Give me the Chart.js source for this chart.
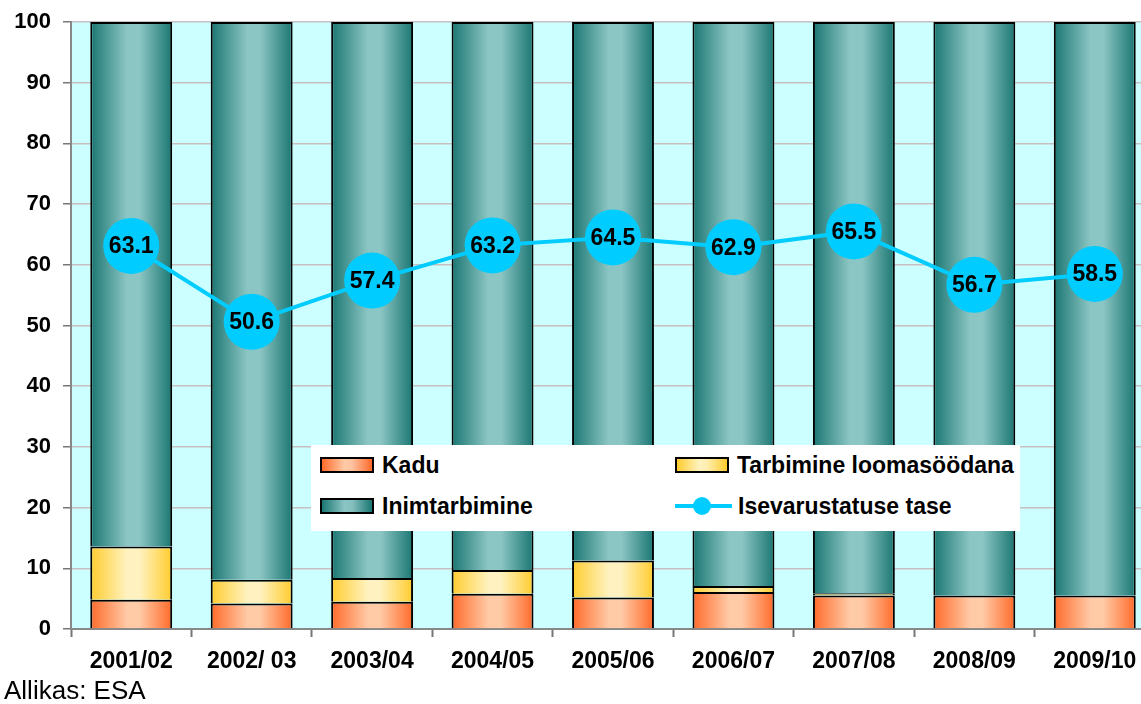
<!DOCTYPE html>
<html>
<head>
<meta charset="utf-8">
<script src="https://cdn.jsdelivr.net/npm/chart.js@4.4.1/dist/chart.umd.min.js"></script>
<style>
  html, body { margin: 0; padding: 0; overflow: hidden; background: #fff; }
  #wrap { position: relative; width: 1160px; height: 704px; }
  #chart { position: absolute; left: 0; top: 0; }
  #legend {
    position: absolute; left: 311px; top: 445px; width: 709px; height: 86px;
    background: #fff; font: bold 23px "Liberation Sans", Arial, sans-serif; color: #000;
  }
  .item { position: absolute; display: flex; align-items: center; height: 26px; }
  .sw { width: 50px; height: 12px; border: 2px solid #000; margin-right: 8px; }
  .ln { position: relative; width: 57px; height: 4px; background: #00ccff; margin-right: 6px; }
  .ln::after { content: ""; position: absolute; left: 18px; top: -7px; width: 18px; height: 18px; border-radius: 50%; background: #00ccff; }
  #source { position: absolute; left: 4px; top: 675px; font: 26px "Liberation Sans", Arial, sans-serif; color: #000; }
</style>
</head>
<body>
<div id="wrap">
  <canvas id="chart" width="1160" height="704"></canvas>
  <div id="legend">
    <div class="item" style="left:9px;top:7px"><div class="sw" style="background:linear-gradient(to right,#ff6a2a,#ffcaa6 45%,#ffc2a0 60%,#ff6a2a)"></div>Kadu</div>
    <div class="item" style="left:364px;top:7px"><div class="sw" style="background:linear-gradient(to right,#ffcc2e,#fff2c0 45%,#ffeeb0 60%,#ffcc2e)"></div>Tarbimine loomasöödana</div>
    <div class="item" style="left:9px;top:48px"><div class="sw" style="background:linear-gradient(to right,#1a7672,#8cc6c4 45%,#86c0be 60%,#1a7672)"></div>Inimtarbimine</div>
    <div class="item" style="left:364px;top:48px"><div class="ln"></div>Isevarustatuse tase</div>
  </div>
  <div id="source">Allikas: ESA</div>
</div>
<script>
const years = ["2001/02", "2002/ 03", "2003/04", "2004/05", "2005/06", "2006/07", "2007/08", "2008/09", "2009/10"];
const kadu = [4.8, 4.2, 4.5, 5.8, 5.2, 6.1, 5.5, 5.5, 5.5];
const loomasoot = [8.8, 3.9, 3.9, 3.9, 6.1, 1.0, 0.4, 0, 0];
const inimtarbimine = years.map((_, i) => +(100 - kadu[i] - loomasoot[i]).toFixed(1));
const isevarustatus = [63.1, 50.6, 57.4, 63.2, 64.5, 62.9, 65.5, 56.7, 58.5];

const FONT = '"Liberation Sans", Arial, sans-serif';
const BAR_PCT = 0.68;

// horizontal "cylinder" shading for each bar
function shade(dark, light) {
  return (c) => {
    const chart = c.chart;
    const area = chart.chartArea;
    if (!area || c.dataIndex === undefined) return dark;
    const x = chart.scales.x.getPixelForValue(c.dataIndex);
    const w = (area.right - area.left) / years.length * BAR_PCT;
    const g = chart.ctx.createLinearGradient(x - w / 2, 0, x + w / 2, 0);
    g.addColorStop(0, dark);
    g.addColorStop(0.45, light);
    g.addColorStop(0.6, light);
    g.addColorStop(1, dark);
    return g;
  };
}

const plotBg = {
  id: "plotBg",
  beforeDraw(chart) {
    const { ctx, chartArea: a } = chart;
    ctx.save();
    ctx.fillStyle = "#ccffff";
    ctx.fillRect(a.left, a.top, a.right - a.left, a.bottom - a.top);
    ctx.restore();
  },
};

const pointLabels = {
  id: "pointLabels",
  afterDatasetsDraw(chart) {
    const meta = chart.getDatasetMeta(3);
    const ctx = chart.ctx;
    ctx.save();
    ctx.font = "bold 23px " + FONT;
    ctx.fillStyle = "#000";
    ctx.textAlign = "center";
    ctx.textBaseline = "middle";
    meta.data.forEach((pt, i) => {
      ctx.fillText(isevarustatus[i].toFixed(1), pt.x, pt.y + 1);
    });
    ctx.restore();
  },
};

new Chart(document.getElementById("chart"), {
  type: "bar",
  data: {
    labels: years,
    datasets: [
      {
        label: "Kadu",
        data: kadu,
        backgroundColor: shade("#ff6a2a", "#ffcaa6"),
        borderColor: "#000",
        borderWidth: 2,
        stack: "s",
        order: 1,
      },
      {
        label: "Tarbimine loomasöödana",
        data: loomasoot,
        backgroundColor: shade("#ffcc2e", "#fff2c0"),
        borderColor: "#000",
        borderWidth: 2,
        stack: "s",
        order: 1,
      },
      {
        label: "Inimtarbimine",
        data: inimtarbimine,
        backgroundColor: shade("#1a7672", "#8cc6c4"),
        borderColor: "#000",
        borderWidth: 2,
        stack: "s",
        order: 1,
      },
      {
        type: "line",
        label: "Isevarustatuse tase",
        data: isevarustatus,
        borderColor: "#00ccff",
        backgroundColor: "#00ccff",
        borderWidth: 4,
        pointRadius: 28,
        pointHoverRadius: 28,
        pointBorderWidth: 0,
        stack: "line",
        order: 0,
      },
    ],
  },
  options: {
    responsive: false,
    animation: false,
    events: [],
    layout: { autoPadding: false, padding: { top: 22, right: 5, bottom: 0, left: 0 } },
    datasets: { bar: { barPercentage: BAR_PCT, categoryPercentage: 1 } },
    plugins: { legend: { display: false }, tooltip: { enabled: false } },
    scales: {
      x: {
        stacked: true,
        afterFit: (s) => { s.height = 75; s.paddingLeft = 0; s.paddingRight = 0; },
        grid: { drawOnChartArea: false, offset: true, tickLength: 8, tickColor: "#777", tickWidth: 2 },
        border: { color: "#888", width: 2 },
        ticks: { color: "#000", font: { family: FONT, size: 23, weight: "bold" }, padding: 11, maxRotation: 0 },
      },
      y: {
        stacked: true,
        min: 0,
        max: 100,
        afterFit: (s) => { s.width = 71; s.paddingTop = 0; s.paddingBottom = 0; },
        grid: { color: "#c8c0c0", lineWidth: 1.5, tickLength: 8, tickColor: "#777" },
        border: { color: "#888", width: 2 },
        ticks: { stepSize: 10, color: "#000", font: { family: FONT, size: 22, weight: "bold" }, padding: 12 },
      },
    },
  },
  plugins: [plotBg, pointLabels],
});
</script>
</body>
</html>
